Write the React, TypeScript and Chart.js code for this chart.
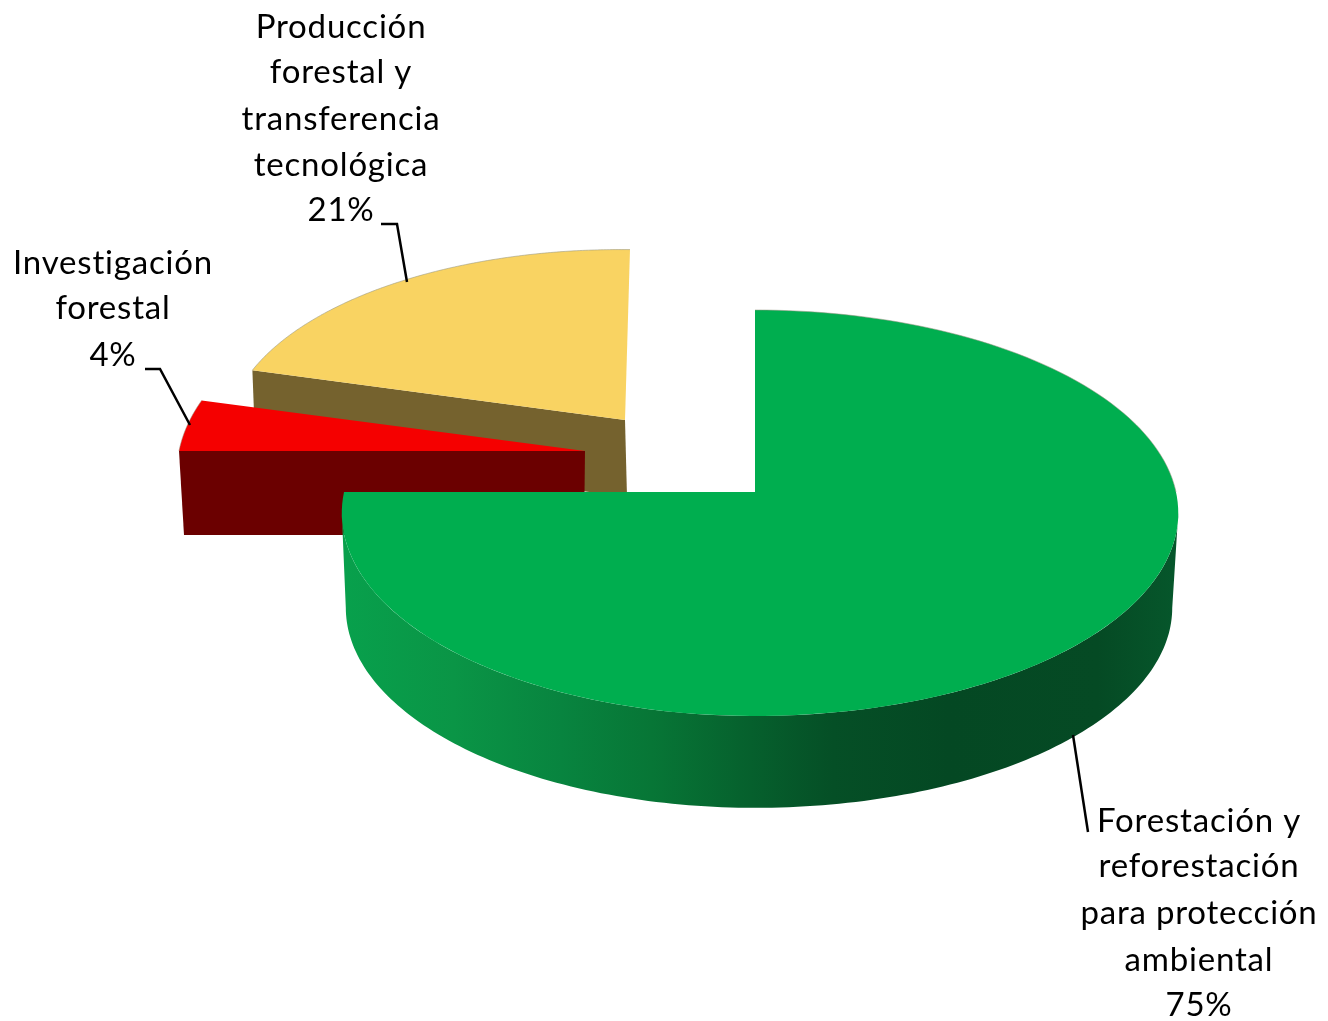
import React, { useEffect, useRef } from "react";
import { Chart, registerables } from "chart.js";

Chart.register(...registerables);

const categories = ["Forestación y reforestación para protección ambiental", "Investigación forestal", "Producción forestal y transferencia tecnológica"];
const shares = [75, 4, 21];
const labelLines = [
  ["Forestación y", "reforestación", "para protección", "ambiental"],
  ["Investigación", "forestal"],
  ["Producción", "forestal y", "transferencia", "tecnológica"],
];
const topColors = ["#00ae4f", "#f50000", "#f9d362"];
const wallColors = ["#0a8a40", "#6b0000", "#75622e"];

type Plane = { cx: number; cy: number; al: number; ar: number; b: number; shear: number; tilt: number };
const K = 0.1034;
const planes: { top: Plane; bottom: Plane }[] = [
  { top: { cx: 755, cy: 492, al: 411, ar: 421, b: 200.8, shear: 0, tilt: 0 }, bottom: { cx: 755, cy: 587, al: 407, ar: 415, b: 198, shear: 0, tilt: 0 } },
  { top: { cx: 585, cy: 451, al: 406, ar: 406, b: 208, shear: 0, tilt: 0 }, bottom: { cx: 584, cy: 535, al: 400, ar: 400, b: 204, shear: 0, tilt: 0 } },
  { top: { cx: 625, cy: 420, al: 396, ar: 396, b: 188, shear: 5.5, tilt: 4.5 }, bottom: { cx: 627, cy: 497, al: 395, ar: 395, b: 186, shear: 5.5, tilt: 4.5 } },
];
const labelBoxes = [
  { x: 1199, ys: [821.5, 866.5, 913.5, 960.5, 1005.5] },
  { x: 113, ys: [263.5, 308.5, 355.5] },
  { x: 341, ys: [27.5, 72.5, 119.5, 165.5, 210.5] },
];
const leaders = [
  [[1073, 735], [1088, 832]],
  [[145, 369], [160, 369], [190, 425]],
  [[381, 224], [397, 224], [407, 282]],
];
const sideStops: [number, string][] = [
  [0, "#08a04c"], [0.13, "#0a9546"], [0.26, "#08843f"], [0.37, "#077636"],
  [0.49, "#06602d"], [0.59, "#054f26"], [0.73, "#044823"], [0.91, "#054a24"], [1, "#06562b"],
];

function pt(p: Plane, t: number): [number, number] {
  const u = Math.cos(t), v = Math.sin(t), w = 1 - K * v;
  return [p.cx + ((u < 0 ? p.al : p.ar) * u - p.shear * v) / w, p.cy + (p.b * v + p.tilt * u) / w];
}

function arcPath(ctx: CanvasRenderingContext2D, p: Plane, a: number, b: number, move: boolean) {
  const n = 160;
  for (let i = 0; i <= n; i++) {
    const q = pt(p, a + ((b - a) * i) / n);
    if (i === 0 && move) ctx.moveTo(q[0], q[1]);
    else ctx.lineTo(q[0], q[1]);
  }
}

const piePlugin = {
  id: "pie3d",
  afterDatasetsDraw(chart: any) {
    const ctx: CanvasRenderingContext2D = chart.ctx;
    const arcs = chart.getDatasetMeta(0).data;
    const face = (i: number) => {
      const { startAngle, endAngle } = arcs[i];
      const p = planes[i].top;
      ctx.beginPath();
      ctx.moveTo(p.cx, p.cy);
      arcPath(ctx, p, startAngle, endAngle, false);
      ctx.closePath();
      ctx.fillStyle = topColors[i];
      ctx.fill();
      ctx.beginPath();
      arcPath(ctx, p, startAngle, i === 0 ? 0 : endAngle, true);
      ctx.strokeStyle = "rgba(150,150,130,0.55)";
      ctx.lineWidth = 1;
      ctx.stroke();
    };
    const wall = (i: number, t: number) => {
      const { top, bottom } = planes[i];
      const a = pt(top, t), b = pt(bottom, t);
      ctx.beginPath();
      ctx.moveTo(top.cx, top.cy);
      ctx.lineTo(a[0], a[1]);
      ctx.lineTo(b[0], b[1]);
      ctx.lineTo(bottom.cx, bottom.cy);
      ctx.closePath();
      ctx.fillStyle = wallColors[i];
      ctx.fill();
    };
    ctx.save();
    wall(2, arcs[2].startAngle);
    face(2);
    wall(1, arcs[1].startAngle);
    face(1);
    const { top, bottom } = planes[0];
    const lim = Math.asin(K);
    const grad = ctx.createLinearGradient(346, 0, 1172, 0);
    sideStops.forEach(([o, c]) => grad.addColorStop(o, c));
    ctx.beginPath();
    arcPath(ctx, top, lim, Math.PI - lim, true);
    arcPath(ctx, bottom, Math.PI - lim, lim, false);
    ctx.closePath();
    ctx.fillStyle = grad;
    ctx.fill();
    face(0);

    ctx.strokeStyle = "#000";
    ctx.lineWidth = 2.5;
    leaders.forEach((l) => {
      ctx.beginPath();
      l.forEach((q, j) => (j ? ctx.lineTo(q[0], q[1]) : ctx.moveTo(q[0], q[1])));
      ctx.stroke();
    });
    ctx.fillStyle = "#000";
    ctx.font = "33px Lato";
    ctx.textAlign = "center";
    ctx.textBaseline = "middle";
    (ctx as any).letterSpacing = "0.8px";
    labelBoxes.forEach((box, i) => {
      const lines = [...labelLines[i], `${shares[i]}%`];
      lines.forEach((s, j) => ctx.fillText(s, box.x, box.ys[j]));
    });
    ctx.restore();
  },
};

export default function App() {
  const ref = useRef<HTMLCanvasElement>(null);
  useEffect(() => {
    document.body.style.margin = "0";
    const chart = new Chart(ref.current!, {
      type: "pie",
      data: {
        labels: categories,
        datasets: [{ data: shares, backgroundColor: "rgba(0,0,0,0)", borderWidth: 0 }],
      },
      options: {
        animation: false,
        responsive: false,
        rotation: 0,
        plugins: { legend: { display: false }, tooltip: { enabled: false } },
      },
      plugins: [piePlugin],
    } as any);
    return () => chart.destroy();
  }, []);
  return <canvas ref={ref} width={1328} height={1021} style={{ display: "block" }} />;
}
